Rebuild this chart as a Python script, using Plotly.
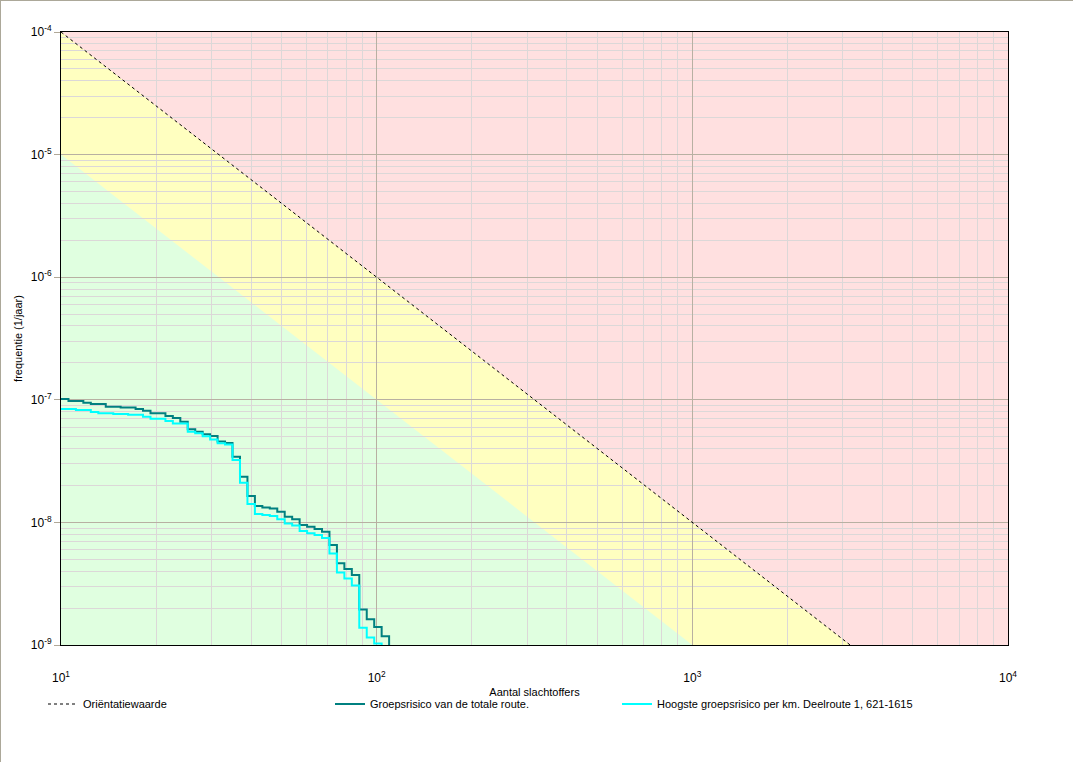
import plotly.graph_objects as go

# ---------------- data ----------------
# bin edges (aantal slachtoffers) of the FN-curves
n_edges = [10.0, 10.56, 11.15, 11.77, 12.43, 13.13, 13.86, 14.64, 15.45, 16.32,
           17.23, 18.19, 19.21, 20.28, 21.42, 22.61, 23.88, 25.21, 26.62, 28.11,
           29.68, 31.34, 33.09, 34.94, 36.90, 38.96, 41.14, 43.44, 45.86, 48.43,
           51.13, 53.99, 57.01, 60.20, 63.56, 67.12, 70.87, 74.83, 79.01, 83.43,
           88.09, 93.02, 98.22, 103.7, 109.5]

# Groepsrisico van de totale route (frequency per bin)
gr_totaal = [1.015e-7, 9.77e-8, 9.77e-8, 9.47e-8, 9.24e-8, 9.24e-8, 8.78e-8, 8.78e-8,
             8.65e-8, 8.65e-8, 8.41e-8, 8.15e-8, 7.76e-8, 7.76e-8, 7.38e-8, 7.10e-8,
             6.63e-8, 5.74e-8, 5.49e-8, 5.23e-8, 5.07e-8, 4.57e-8, 4.44e-8, 3.43e-8,
             2.36e-8, 1.64e-8, 1.36e-8, 1.32e-8, 1.30e-8, 1.22e-8, 1.11e-8, 1.06e-8,
             9.52e-9, 9.22e-9, 8.84e-9, 8.40e-9, 6.54e-9, 4.64e-9, 4.17e-9, 3.72e-9,
             1.95e-9, 1.62e-9, 1.40e-9, 1.18e-9]

# Hoogste groepsrisico per km
gr_km = [8.41e-8, 8.41e-8, 8.25e-8, 8.25e-8, 7.95e-8, 7.76e-8, 7.76e-8, 7.66e-8,
         7.66e-8, 7.56e-8, 7.56e-8, 7.28e-8, 7.01e-8, 7.01e-8, 6.72e-8, 6.41e-8,
         6.41e-8, 5.49e-8, 5.33e-8, 5.04e-8, 4.74e-8, 4.42e-8, 4.32e-8, 3.23e-8,
         2.11e-8, 1.41e-8, 1.17e-8, 1.15e-8, 1.13e-8, 1.06e-8, 9.80e-9, 9.43e-9,
         8.51e-9, 8.15e-9, 7.89e-9, 7.46e-9, 5.58e-9, 3.90e-9, 3.49e-9, 3.06e-9,
         1.38e-9, 1.15e-9, 1.03e-9]

below_range = 1e-12   # curve drops to zero after its last bin

# Oriëntatiewaarde line (end points)
ori_n = [10, 10000]
ori_f = [1e-4, 1e-10]
# factor 10 below orientation value: boundary of the green zone
green_f = [1e-5, 1e-11]

x_ticks = [10, 100, 1000, 10000]
x_ticktext = ["10<sup>1</sup>", "10<sup>2</sup>", "10<sup>3</sup>", "10<sup>4</sup>"]
y_ticks = [1e-9, 1e-8, 1e-7, 1e-6, 1e-5, 1e-4]
y_ticktext = ["10<sup>-9</sup>", "10<sup>-8</sup>", "10<sup>-7</sup>",
              "10<sup>-6</sup>", "10<sup>-5</sup>", "10<sup>-4</sup>"]

labels = ["Oriëntatiewaarde",
          "Groepsrisico van de totale route.",
          "Hoogste groepsrisico per km. Deelroute 1, 621-1615"]

# ---------------- style ----------------
FONT = "Liberation Sans, Arial, sans-serif"
PINK = "#ffe0e0"
YELLOW = "#ffffc0"
GREEN = "#e0ffe0"
MAJOR = "#b8b0a2"
MINORC = "#dcd8d8"
W, H = 1073, 762
L, R, T, B = 61, 65, 32, 117
pw, ph = W - L - R, H - T - B

fig = go.Figure()

fig.add_trace(go.Scatter(x=ori_n, y=ori_f, mode="lines", name=labels[0],
                         legend="legend",
                         line=dict(color="black", width=1, dash="3px,3px")))
fig.add_trace(go.Scatter(x=n_edges[:len(gr_totaal) + 1], y=gr_totaal + [below_range],
                         mode="lines", line_shape="hv", name=labels[1],
                         legend="legend2",
                         line=dict(color="#008080", width=2)))
fig.add_trace(go.Scatter(x=n_edges[:len(gr_km) + 1], y=gr_km + [below_range],
                         mode="lines", line_shape="hv", name=labels[2],
                         legend="legend3",
                         line=dict(color="#00ffff", width=2)))

def fmt(v):
    return format(v, ".15f").rstrip("0").rstrip(".")

# coloured zones (below the grid)
ymin = y_ticks[0]
yellow_path = "M {},{} L {},{} L {},{} L {},{} Z".format(
    fmt(ori_n[0]), fmt(ori_f[0]), fmt(ori_n[1]), fmt(ori_f[1]),
    fmt(ori_n[1]), fmt(ymin / 1000), fmt(ori_n[0]), fmt(ymin / 1000))
green_path = "M {},{} L {},{} L {},{} L {},{} Z".format(
    fmt(ori_n[0]), fmt(green_f[0]), fmt(ori_n[1]), fmt(green_f[1]),
    fmt(ori_n[1]), fmt(ymin / 1000), fmt(ori_n[0]), fmt(ymin / 1000))

shapes = [
    dict(type="path", path=yellow_path, xref="x", yref="y", layer="below",
         fillcolor=YELLOW, line=dict(width=0)),
    dict(type="path", path=green_path, xref="x", yref="y", layer="below",
         fillcolor=GREEN, line=dict(width=0)),
]
# window border (top and left)
shapes.append(dict(type="line", xref="paper", yref="paper",
                   x0=(0.5 - L) / pw, x1=(W - L) / pw,
                   y0=1 + (T - 0.5) / ph, y1=1 + (T - 0.5) / ph,
                   line=dict(color="#aca899", width=1)))
shapes.append(dict(type="line", xref="paper", yref="paper",
                   x0=(0.5 - L) / pw, x1=(0.5 - L) / pw,
                   y0=-B / ph, y1=1 + T / ph,
                   line=dict(color="#aca899", width=1)))

minor_x = [m * 10 ** e for e in range(1, 4) for m in range(2, 10)]
minor_y = [m * 10.0 ** e for e in range(-9, -4) for m in range(2, 10)]

legend_y = -(704 - (H - B)) / ph

def leg(px):
    return dict(orientation="h", x=(px - L) / pw, xanchor="left",
                y=legend_y, yanchor="middle",
                font=dict(family=FONT, size=11), bgcolor="rgba(0,0,0,0)",
                itemclick=False, itemdoubleclick=False)

fig.update_layout(
    width=W, height=H,
    margin=dict(l=L, r=R, t=T, b=B, autoexpand=False),
    paper_bgcolor="white", plot_bgcolor=PINK,
    font=dict(family=FONT, size=11, color="black"),
    shapes=shapes,
    showlegend=True,
    legend=leg(43), legend2=leg(330), legend3=leg(617),
    xaxis=dict(type="log", range=[1, 4], tickmode="array", tickvals=x_ticks,
               ticktext=x_ticktext,
               ticks="outside", ticklen=22, tickcolor="rgba(0,0,0,0)",
               showgrid=True, gridcolor=MAJOR, gridwidth=1,
               minor=dict(tickmode="array", tickvals=minor_x, showgrid=True,
                          gridcolor=MINORC, gridwidth=1, ticks=""),
               showline=True, linecolor="black", linewidth=1, mirror=True,
               zeroline=False, automargin=False,
               title=dict(text="Aantal slachtoffers", standoff=3,
                          font=dict(family=FONT, size=11)),
               tickfont=dict(family=FONT, size=12)),
    yaxis=dict(type="log", range=[-9, -4], tickmode="array", tickvals=y_ticks,
               ticktext=y_ticktext,
               ticks="outside", ticklen=6, tickcolor="#b0a898",
               showgrid=True, gridcolor=MAJOR, gridwidth=1,
               minor=dict(tickmode="array", tickvals=minor_y, showgrid=True,
                          gridcolor=MINORC, gridwidth=1, ticks=""),
               showline=True, linecolor="black", linewidth=1, mirror=True,
               zeroline=False, automargin=False,
               title=dict(text="frequentie (1/jaar)", standoff=5,
                          font=dict(family=FONT, size=11)),
               tickfont=dict(family=FONT, size=12)),
)

fig.write_html("out.html", config={"displayModeBar": False},
               post_script="document.body.style.margin='0';")
